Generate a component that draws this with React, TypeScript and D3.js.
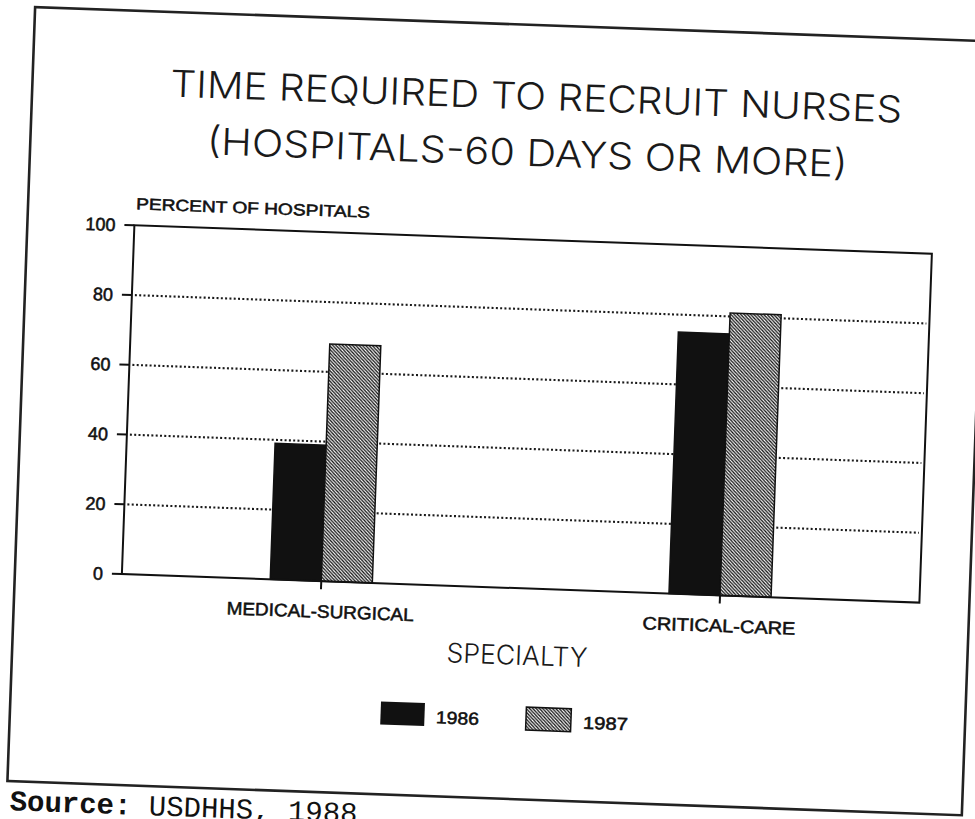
import React from "react";
import * as d3 from "d3";

const categories = ["MEDICAL-SURGICAL", "CRITICAL-CARE"];
const years = ["1986", "1987"];
const values1986 = [39, 75];
const values1987 = [68, 81];
const yTicks = [0, 20, 40, 60, 80, 100];
const gridTicks = [20, 40, 60, 80];
const titleLines = ["TIME REQUIRED TO RECRUIT NURSES", "(HOSPITALS-60 DAYS OR MORE)"];

const W = 975;
const H = 819;
const X0 = 128;
const X1 = 926;
const Y0 = 238;
const Y1 = 587;
const ANGLE = 2.05;

const labelFont = "'Liberation Sans', Arial, sans-serif";
const thinFont = "Inter, 'Liberation Sans', sans-serif";
const ink = "#111";

export default function App() {
  const x = d3.scaleBand<string>().domain(categories).range([X0, X1]).paddingInner(0.744).paddingOuter(0.372);
  const xi = d3.scaleBand<string>().domain(years).range([0, x.bandwidth()]);
  const y = d3.scaleLinear().domain([0, 100]).range([Y1, Y0]);
  const series = [values1986, values1987];
  const fills = [ink, "url(#hatch)"];
  const catLabelWidth = [187, 153];
  const heavy = { stroke: ink, strokeWidth: 0.55 };

  return (
    <svg width={W} height={H} style={{ position: "absolute", left: 0, top: 0, background: "#fff" }}>
      <defs>
        <pattern id="hatch" patternUnits="userSpaceOnUse" width={3.4} height={3.4}>
          <rect width={3.4} height={3.4} fill="#fff" />
          <path d="M-1,-1 L4.4,4.4 M-1,2.4 L1,4.4 M2.4,-1 L4.4,1" stroke={ink} strokeWidth={1.3} />
        </pattern>
      </defs>
      <rect width={W} height={H} fill="#fff" />
      <g transform={`rotate(${ANGLE}, 487, 410)`}>
        <rect x={21} y={23.5} width={955} height={774.5} fill="none" stroke="#222" strokeWidth={2.6} />
        {titleLines.map((t, i) => (
          <text key={t} x={i === 0 ? 525 : 518} y={i === 0 ? 108 : 164.5} textAnchor="middle"
            fontFamily={thinFont} fontWeight={300} fontSize={37} fill="#1a1a1a"
            textLength={i === 0 ? 732 : 641} lengthAdjust="spacingAndGlyphs">{t}</text>
        ))}
        <text x={X0 + 1} y={222} fontFamily={labelFont} fontSize={16} fill={ink} {...heavy} textLength={234}
          lengthAdjust="spacingAndGlyphs">PERCENT OF HOSPITALS</text>

        {gridTicks.map((t) => (
          <line key={t} x1={X0 + 3} x2={X1 - 3} y1={y(t)} y2={y(t)} stroke="#1a1a1a" strokeWidth={2.1}
            strokeDasharray="2 2.3" />
        ))}
        {yTicks.map((t) => (
          <g key={t}>
            <line x1={X0 - 10} x2={X0} y1={y(t)} y2={y(t)} stroke={ink} strokeWidth={2} />
            <text x={109} y={y(t) + 6.5} textAnchor="end" fontFamily={labelFont} fontSize={18} fill={ink}
              {...heavy}>{t}</text>
          </g>
        ))}

        {categories.map((c, ci) => (
          <g key={c}>
            {years.map((yr, si) => (
              <rect key={yr} x={(x(c) as number) + (xi(yr) as number)} y={y(series[si][ci])}
                width={xi.bandwidth()} height={Y1 - y(series[si][ci])} fill={fills[si]}
                stroke={ink} strokeWidth={1.5} />
            ))}
            <line x1={(x(c) as number) + x.bandwidth() / 2} x2={(x(c) as number) + x.bandwidth() / 2}
              y1={Y1} y2={Y1 + 8} stroke={ink} strokeWidth={2} />
            <text x={(x(c) as number) + x.bandwidth() / 2} y={623.5} textAnchor="middle" fontFamily={labelFont}
              fontSize={18} fill={ink} {...heavy} textLength={catLabelWidth[ci]}
              lengthAdjust="spacingAndGlyphs">{c}</text>
          </g>
        ))}

        <rect x={X0} y={Y0} width={X1 - X0} height={Y1 - Y0} fill="none" stroke={ink} strokeWidth={2} />

        <text x={525.8} y={663.5} textAnchor="middle" fontFamily={thinFont} fontWeight={300} fontSize={27}
          fill="#1a1a1a" textLength={141} lengthAdjust="spacingAndGlyphs">SPECIALTY</text>

        <rect x={391.5} y={705} width={44} height={23} fill={ink} />
        <text x={447} y={725} fontFamily={labelFont} fontSize={17.5} fill={ink} {...heavy} textLength={43}
          lengthAdjust="spacingAndGlyphs">{years[0]}</text>
        <rect x={537} y={705.5} width={45} height={23} fill="url(#hatch)" stroke={ink} strokeWidth={1.5} />
        <text x={594} y={725} fontFamily={labelFont} fontSize={17.5} fill={ink} {...heavy} textLength={45}
          lengthAdjust="spacingAndGlyphs">{years[1]}</text>

        <text x={24} y={827} fontFamily="'Liberation Mono', 'Courier New', monospace" fontSize={29} fill={ink}>
          <tspan fontWeight="bold">Source:</tspan> USDHHS, 1988
        </text>
      </g>
    </svg>
  );
}
